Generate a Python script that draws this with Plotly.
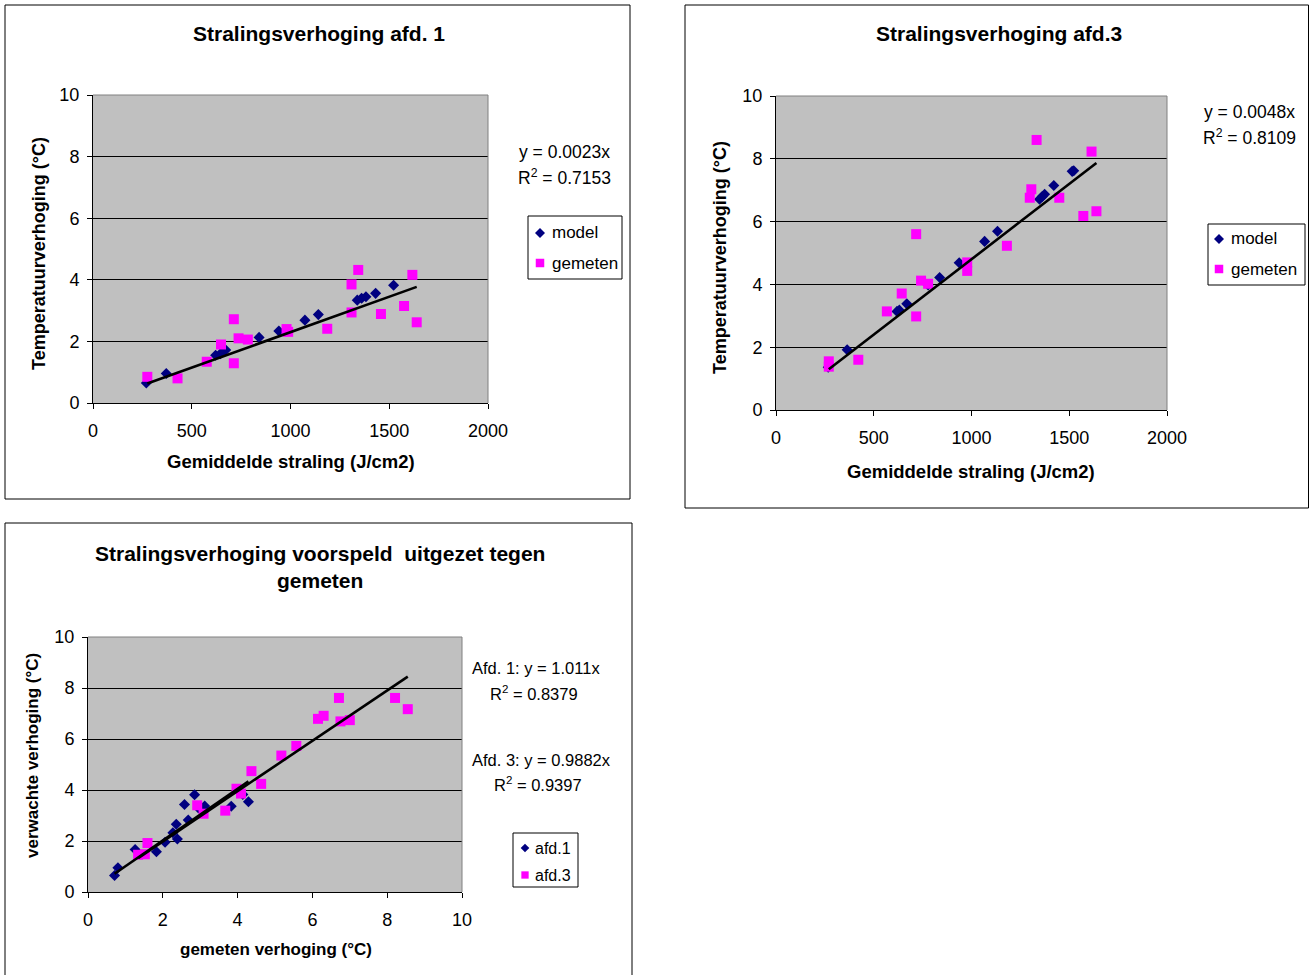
import plotly.graph_objects as go

W, H = 1309, 975

# ---------------- data: chart 1 (afd. 1) ----------------
afd1_model_straling = [270, 371, 621, 645, 672, 841, 941, 1073, 1141, 1338, 1360, 1382, 1431, 1522]
afd1_model_temp = [0.65, 0.96, 1.55, 1.60, 1.72, 2.13, 2.34, 2.69, 2.87, 3.34, 3.40, 3.45, 3.56, 3.82]
afd1_gemeten_straling = [275, 428, 576, 648, 713, 713, 737, 784, 980, 988, 1186, 1309, 1309, 1343, 1458, 1575, 1617, 1639]
afd1_gemeten_temp = [0.85, 0.80, 1.34, 1.90, 2.72, 1.29, 2.10, 2.06, 2.40, 2.31, 2.41, 2.94, 3.85, 4.32, 2.89, 3.15, 4.16, 2.62]
afd1_slope = 0.0023

# ---------------- data: chart 2 (afd. 3) ----------------
afd3_model_straling = [267, 364, 619, 631, 669, 778, 837, 937, 1067, 1133, 1348, 1362, 1374, 1421, 1515, 1523]
afd3_model_temp = [1.36, 1.92, 3.14, 3.18, 3.38, 3.98, 4.22, 4.69, 5.37, 5.69, 6.71, 6.80, 6.87, 7.15, 7.60, 7.62]
afd3_gemeten_straling = [270, 270, 421, 567, 643, 717, 717, 742, 778, 978, 978, 1181, 1298, 1306, 1333, 1449, 1572, 1614, 1639]
afd3_gemeten_temp = [1.55, 1.38, 1.60, 3.14, 3.71, 5.60, 2.98, 4.12, 4.02, 4.70, 4.43, 5.23, 6.76, 7.03, 8.60, 6.76, 6.18, 8.23, 6.33]
afd3_slope = 0.0048

# ---------------- data: chart 3 (voorspeld vs gemeten) ----------------
cmp_afd1_gemeten = [0.71, 0.80, 1.26, 1.83, 2.06, 2.27, 2.39, 2.36, 2.68, 2.58, 2.85, 2.95, 3.12, 3.83, 4.14, 4.29]
cmp_afd1_model = [0.65, 0.95, 1.67, 1.58, 1.95, 2.32, 2.08, 2.66, 2.82, 3.43, 3.81, 3.30, 3.37, 3.36, 3.82, 3.54]
cmp_afd3_gemeten = [1.34, 1.52, 1.59, 2.92, 3.09, 3.67, 3.97, 4.09, 4.37, 4.63, 5.17, 5.57, 6.15, 6.30, 6.71, 6.75, 7.00, 8.21, 8.55]
cmp_afd3_model = [1.46, 1.48, 1.92, 3.40, 3.07, 3.19, 4.05, 3.86, 4.74, 4.24, 5.35, 5.73, 6.79, 6.91, 7.61, 6.69, 6.74, 7.61, 7.17]
cmp_afd1_slope = 1.011
cmp_afd3_slope = 0.9882

straling_ticks = [0, 500, 1000, 1500, 2000]
temp_ticks = [0, 2, 4, 6, 8, 10]

FONT = "Liberation Sans, Arial, sans-serif"
NAVY = "#000080"
MAGENTA = "#FF00FF"
PLOT_BG = "#C0C0C0"


def fx(x):
    return x / W


def fy(y):
    return 1 - y / H


fig = go.Figure()


def markers(x, y, name, symbol, color, xa, ya, size):
    fig.add_trace(go.Scatter(
        x=x, y=y, mode="markers", name=name, xaxis=xa, yaxis=ya, showlegend=False,
        marker=dict(symbol=symbol, color=color, size=size, line=dict(width=0)),
        hoverinfo="x+y",
    ))


def trend(xs, slope, xa, ya):
    x0, x1 = min(xs), max(xs)
    fig.add_trace(go.Scatter(
        x=[x0, x1], y=[slope * x0, slope * x1], mode="lines", xaxis=xa, yaxis=ya,
        line=dict(color="black", width=2.6), showlegend=False, hoverinfo="skip",
    ))


# chart 1
markers(afd1_model_straling, afd1_model_temp, "model", "diamond", NAVY, "x", "y", 8.5)
markers(afd1_gemeten_straling, afd1_gemeten_temp, "gemeten", "square", MAGENTA, "x", "y", 10)
trend(afd1_gemeten_straling, afd1_slope, "x", "y")

# chart 2
markers(afd3_model_straling, afd3_model_temp, "model", "diamond", NAVY, "x2", "y2", 8.5)
markers(afd3_gemeten_straling, afd3_gemeten_temp, "gemeten", "square", MAGENTA, "x2", "y2", 10)
trend(afd3_gemeten_straling, afd3_slope, "x2", "y2")

# chart 3
markers(cmp_afd1_gemeten, cmp_afd1_model, "afd.1", "diamond", NAVY, "x3", "y3", 8.5)
markers(cmp_afd3_gemeten, cmp_afd3_model, "afd.3", "square", MAGENTA, "x3", "y3", 10)
trend(cmp_afd1_gemeten, cmp_afd1_slope, "x3", "y3")
trend(cmp_afd3_gemeten, cmp_afd3_slope, "x3", "y3")


def xaxis_cfg(left, right, rng, ticks, anchor):
    return dict(domain=[fx(left), fx(right)], range=rng, tickvals=ticks, anchor=anchor,
                automargin=False,
                showgrid=False, zeroline=False, showline=True, linecolor="black", linewidth=1,
                ticks="outside", ticklen=5, tickcolor="black", ticklabelstandoff=6,
                tickfont=dict(family=FONT, size=18, color="black"), fixedrange=True)


def yaxis_cfg(top, bottom, rng, ticks, anchor):
    return dict(domain=[fy(bottom), fy(top)], range=rng, tickvals=ticks, anchor=anchor,
                automargin=False,
                showgrid=True, gridcolor="#000000", gridwidth=1, zeroline=False,
                showline=True, linecolor="black", linewidth=1,
                ticks="outside", ticklen=5, tickcolor="black", ticklabelstandoff=4,
                tickfont=dict(family=FONT, size=18, color="black"), fixedrange=True)


plots = {
    1: (93, 488, 95, 403),
    2: (776, 1167, 96, 410),
    3: (88, 462, 637, 892),
}

layout = dict(
    width=W, height=H, autosize=False,
    margin=dict(l=0, r=0, t=0, b=0, pad=0, autoexpand=False), showlegend=False,
    paper_bgcolor="white", plot_bgcolor=PLOT_BG,
    font=dict(family=FONT, color="black"),
    xaxis=xaxis_cfg(93, 488, [0, 2000], straling_ticks, "y"),
    yaxis=yaxis_cfg(95, 403, [0, 10], temp_ticks, "x"),
    xaxis2=xaxis_cfg(776, 1167, [0, 2000], straling_ticks, "y2"),
    yaxis2=yaxis_cfg(96, 410, [0, 10], temp_ticks, "x2"),
    xaxis3=xaxis_cfg(88, 462, [0, 10], temp_ticks, "y3"),
    yaxis3=yaxis_cfg(637, 892, [0, 10], temp_ticks, "x3"),
)

shapes = []
# chart frames
for (x0, y0, x1, y1) in [(5, 5, 630, 499), (685, 5, 1308.5, 508), (5, 523, 632, 990)]:
    shapes.append(dict(type="rect", xref="paper", yref="paper", x0=fx(x0), x1=fx(x1),
                       y0=fy(y1), y1=fy(y0), line=dict(color="black", width=1)))
# gray top/right plot-area borders
for (l, r, t, b) in plots.values():
    shapes.append(dict(type="line", xref="paper", yref="paper", x0=fx(l), x1=fx(r),
                       y0=fy(t), y1=fy(t), line=dict(color="#808080", width=1)))
    shapes.append(dict(type="line", xref="paper", yref="paper", x0=fx(r), x1=fx(r),
                       y0=fy(b), y1=fy(t), line=dict(color="#808080", width=1)))

ann = []


def text(x, y, s, size, bold=False, angle=0, anchor="center"):
    ann.append(dict(x=fx(x), y=fy(y), xref="paper", yref="paper", showarrow=False,
                    text=("<b>%s</b>" % s) if bold else s, textangle=angle,
                    xanchor=anchor, yanchor="middle",
                    font=dict(family=FONT, size=size, color="black")))


def diamond_key(cx, cy, r, color):
    pts = [(cx, cy - r), (cx + r, cy), (cx, cy + r), (cx - r, cy)]
    path = "M " + " L ".join("%f,%f" % (fx(a), fy(b)) for a, b in pts) + " Z"
    shapes.append(dict(type="path", xref="paper", yref="paper", path=path,
                       fillcolor=color, line=dict(width=0)))


def square_key(cx, cy, h, color):
    shapes.append(dict(type="rect", xref="paper", yref="paper",
                       x0=fx(cx - h), x1=fx(cx + h), y0=fy(cy + h), y1=fy(cy - h),
                       fillcolor=color, line=dict(width=0)))


def legend_box(x0, y0, x1, y1, entries, size, r):
    shapes.append(dict(type="rect", xref="paper", yref="paper", x0=fx(x0), x1=fx(x1),
                       y0=fy(y1), y1=fy(y0), fillcolor="white",
                       line=dict(color="black", width=1)))
    for (kind, color, label, kx, ky, tx) in entries:
        if kind == "diamond":
            diamond_key(kx, ky, r, color)
        else:
            square_key(kx, ky, r * 0.85, color)
        text(tx, ky, label, size, anchor="left")


legend_box(528, 216, 622, 279,
           [("diamond", NAVY, "model", 540, 233, 550),
            ("square", MAGENTA, "gemeten", 540, 263, 550)], 17, 5)
legend_box(1208, 224, 1305, 285,
           [("diamond", NAVY, "model", 1219, 239, 1229),
            ("square", MAGENTA, "gemeten", 1219, 269, 1229)], 17, 5)
legend_box(513, 833, 578, 887,
           [("diamond", NAVY, "afd.1", 525, 848, 533),
            ("square", MAGENTA, "afd.3", 525, 875, 533)], 16, 4.3)

layout["shapes"] = shapes

# titles
text(319, 33, "Stralingsverhoging afd. 1", 21, True)
text(999, 33, "Stralingsverhoging afd.3", 21, True)
text(320, 567, "Stralingsverhoging voorspeld&nbsp; uitgezet tegen<br>gemeten", 21, True)
# axis titles
text(39, 254, "Temperatuurverhoging (°C)", 18, True, -90)
text(291, 462, "Gemiddelde straling (J/cm2)", 18.5, True)
text(720, 258, "Temperatuurverhoging (°C)", 18, True, -90)
text(971, 471, "Gemiddelde straling (J/cm2)", 18.5, True)
text(32, 756, "verwachte verhoging (°C)", 17, True, -90)
text(276, 949, "gemeten verhoging (°C)", 17, True)
# equations
text(564, 152, "y = 0.0023x", 17.5)
text(564, 177, "R<sup>2</sup> = 0.7153", 17.5)
text(1249, 112, "y = 0.0048x", 17.5)
text(1249, 137, "R<sup>2</sup> = 0.8109", 17.5)
text(536, 668, "Afd. 1: y = 1.011x", 16.5)
text(534, 693, "R<sup>2</sup> = 0.8379", 16.5)
text(541, 760, "Afd. 3: y = 0.9882x", 16.5)
text(538, 784, "R<sup>2</sup> = 0.9397", 16.5)
layout["annotations"] = ann

fig.update_layout(**layout)
fig.write_html(
    "out.html",
    config={"displayModeBar": False},
    post_script="document.body.style.margin='0';document.body.style.overflow='hidden';",
)
